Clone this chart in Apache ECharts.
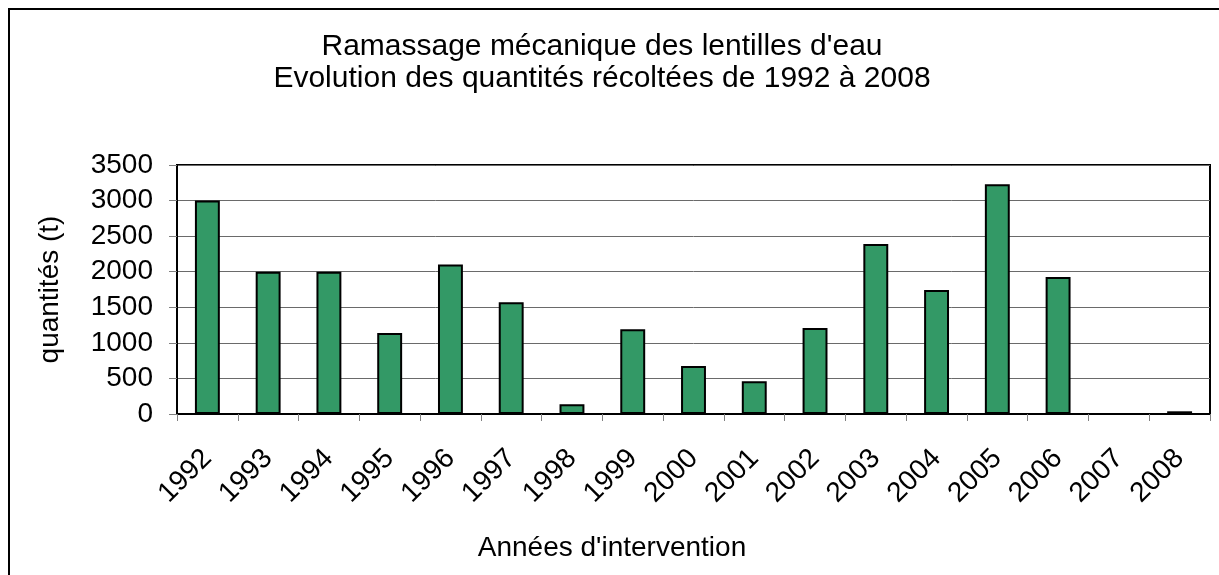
<!DOCTYPE html>
<html><head><meta charset="utf-8">
<script src="https://cdn.jsdelivr.net/npm/echarts@6/dist/echarts.min.js"></script>
<style>html,body{margin:0;padding:0;background:#fff}#c{width:1219px;height:575px}</style>
</head><body><div id="c"></div>
<script>
const years = ['1992','1993','1994','1995','1996','1997','1998','1999','2000','2001','2002','2003','2004','2005','2006','2007','2008'];
const quantities = [3000, 2000, 2000, 1140, 2100, 1570, 136, 1190, 675, 460, 1210, 2390, 1743, 3230, 1926, 0, 38];
const titleLines = ["Ramassage mécanique des lentilles d'eau", "Evolution des quantités récoltées de 1992 à 2008"];
const yTitle = 'quantités (t)';
const xTitle = "Années d'intervention";

const FONT = '"Liberation Sans", Arial, sans-serif';
const chart = echarts.init(document.getElementById('c'), null, {renderer: 'canvas'});
chart.setOption({
  animation: false,
  backgroundColor: '#fff',
  title: [{
    text: titleLines.join('\n'),
    left: 597, top: 26, textAlign: 'center',
    textStyle: {fontFamily: FONT, fontSize: 30, fontWeight: 'normal', color: '#000', lineHeight: 32}
  }, {
    text: xTitle,
    left: 607, top: 529, textAlign: 'center',
    textStyle: {fontFamily: FONT, fontSize: 28, fontWeight: 'normal', color: '#000'}
  }],
  graphic: [{
    type: 'rect', shape: {x: 9, y: 9, width: 1240, height: 620},
    style: {fill: 'none', stroke: '#000', lineWidth: 2}, silent: true
  }],
  grid: {left: 177, right: 9, top: 165, bottom: 161, show: true, borderColor: '#000', borderWidth: 2, backgroundColor: '#fff'},
  xAxis: {
    type: 'category', data: years, boundaryGap: true,
    axisLine: {lineStyle: {color: '#000', width: 2}},
    axisTick: {show: true, length: 7, lineStyle: {color: '#808080', width: 1}},
    axisLabel: {rotate: 45, margin: 40, fontFamily: FONT, fontSize: 28, color: '#000', interval: 0},
    splitLine: {show: false}
  },
  yAxis: {
    type: 'value', min: 0, max: 3500, interval: 500,
    name: yTitle, nameLocation: 'middle', nameGap: 113, nameRotate: 90,
    nameTextStyle: {fontFamily: FONT, fontSize: 28, color: '#000'},
    axisLine: {show: true, lineStyle: {color: '#000', width: 2}},
    axisTick: {show: true, length: 8, lineStyle: {color: '#808080', width: 1}},
    axisLabel: {margin: 24, fontFamily: FONT, fontSize: 28, color: '#000', formatter: v => String(v)},
    splitLine: {show: true, lineStyle: {color: '#6a6a6a', width: 1}}
  },
  series: [{
    type: 'bar', data: quantities, barWidth: '41%',
    itemStyle: {color: '#339966', borderColor: '#000', borderWidth: 2}
  }]
});
</script></body></html>
